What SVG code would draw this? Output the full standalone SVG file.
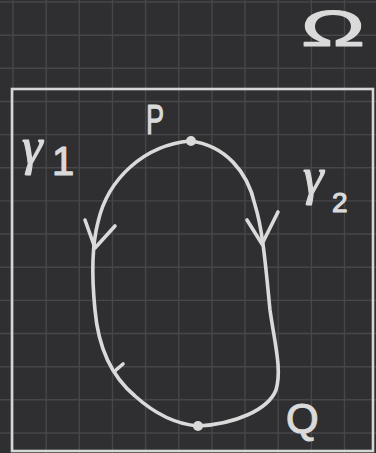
<svg xmlns="http://www.w3.org/2000/svg" width="376" height="453" viewBox="0 0 376 453">
<style>
.grid line{stroke:#47474b;stroke-width:1.4}
.ink{fill:none;stroke:#dadada;stroke-width:3.6;stroke-linecap:round;stroke-linejoin:round}
.lbl{fill:#dadada;stroke:#dadada;stroke-width:1.2;stroke-linejoin:round;font-family:"Liberation Sans",Arial,sans-serif}
.gk{fill:#dadada;stroke:#dadada;stroke-width:1.2;stroke-linejoin:round;font-family:"Liberation Serif","DejaVu Serif",serif;font-style:italic}
</style>
<rect width="376" height="453" fill="#2f2f31"/>
<g class="grid">
<line x1="13" y1="0" x2="13" y2="453"/><line x1="46.2" y1="0" x2="46.2" y2="453"/><line x1="79.3" y1="0" x2="79.3" y2="453"/><line x1="112.5" y1="0" x2="112.5" y2="453"/><line x1="145.6" y1="0" x2="145.6" y2="453"/><line x1="178.8" y1="0" x2="178.8" y2="453"/><line x1="211.9" y1="0" x2="211.9" y2="453"/><line x1="245" y1="0" x2="245" y2="453"/><line x1="278.2" y1="0" x2="278.2" y2="453"/><line x1="311.4" y1="0" x2="311.4" y2="453"/><line x1="344.5" y1="0" x2="344.5" y2="453"/>
<line x1="0" y1="2" x2="376" y2="2"/><line x1="0" y1="35.2" x2="376" y2="35.2"/><line x1="0" y1="68.3" x2="376" y2="68.3"/><line x1="0" y1="101.5" x2="376" y2="101.5"/><line x1="0" y1="134.6" x2="376" y2="134.6"/><line x1="0" y1="167.8" x2="376" y2="167.8"/><line x1="0" y1="200.9" x2="376" y2="200.9"/><line x1="0" y1="234" x2="376" y2="234"/><line x1="0" y1="267.2" x2="376" y2="267.2"/><line x1="0" y1="300.4" x2="376" y2="300.4"/><line x1="0" y1="333.5" x2="376" y2="333.5"/><line x1="0" y1="366.7" x2="376" y2="366.7"/><line x1="0" y1="399.8" x2="376" y2="399.8"/><line x1="0" y1="433" x2="376" y2="433"/>
</g>
<g id="region-omega">
<rect x="12" y="89" width="361" height="362" fill="none" stroke="#d6d6d6" stroke-width="2.6"/>
<text class="lbl" x="301" y="46" font-size="50" textLength="64" lengthAdjust="spacingAndGlyphs">Ω</text>
</g>
<g id="connectors">
<g id="gamma1">
<path class="ink" d="M190,141 C145,145 108,178 98,222 C92,245 92,280 95,310 C98,345 110,375 135,396 C155,414 175,424 198,426"/>
<path class="ink" d="M85,220 L95,248 L115,226"/>
<path class="ink" d="M116,370 L123,364"/>
<text class="gk" x="22" y="164" font-size="52">γ</text>
<text class="lbl" x="52" y="175" font-size="40">1</text>
</g>
<g id="gamma2">
<path class="ink" d="M190,141 C225,145 248,172 255,205 C263,230 266,270 270,310 C275,345 282,370 276,390 C268,410 235,424 198,426"/>
<path class="ink" d="M247,220 L262,244 L278,212"/>
<text class="gk" x="303" y="194" font-size="52">γ</text>
<text class="lbl" x="332" y="212" font-size="28">2</text>
</g>
</g>
<g id="point-P">
<circle cx="191" cy="141" r="5" fill="#dadada"/>
<text class="lbl" x="146" y="134" font-size="42" textLength="18" lengthAdjust="spacingAndGlyphs">P</text>
</g>
<g id="point-Q">
<circle cx="198" cy="426" r="5" fill="#dadada"/>
<text class="lbl" x="286" y="433" font-size="42">Q</text>
</g>
</svg>
